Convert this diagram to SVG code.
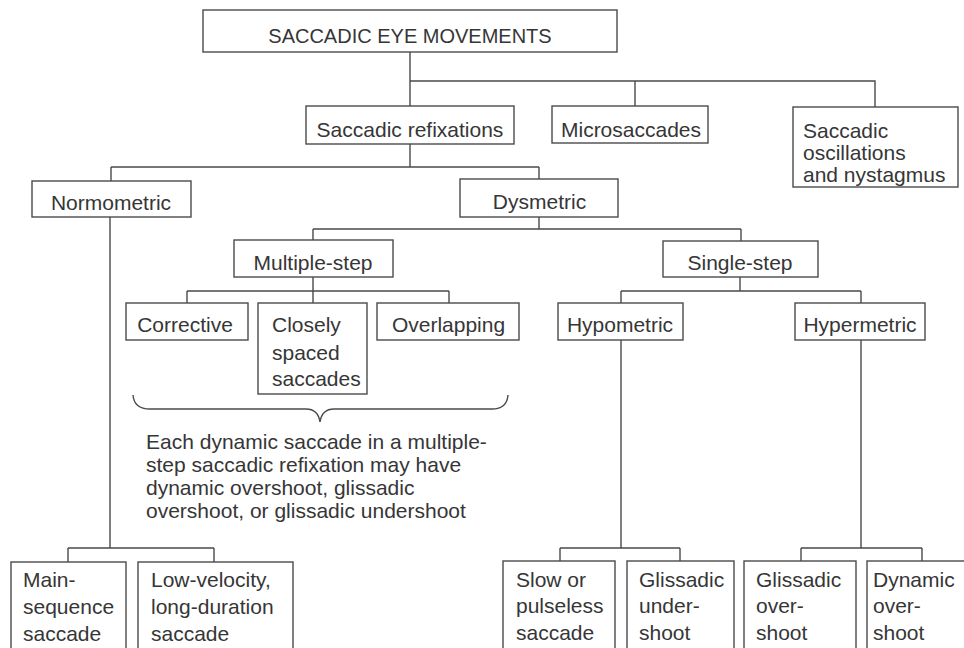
<svg xmlns="http://www.w3.org/2000/svg" width="964" height="648" viewBox="0 0 964 648">
<style>
.box{fill:#ffffff;stroke:#4a4a4a;stroke-width:1.4}
.t{font-family:"Liberation Sans",Arial,sans-serif;font-size:21px;fill:#363636}
.c{text-anchor:middle}
.ln{fill:none;stroke:#4a4a4a;stroke-width:1.4}
</style>
<rect width="964" height="648" fill="#ffffff"/>
<g id="connectors">
<path class="ln" d="M410,52 V106 M410,81 H875 V107 M635,81 V106"/>
<path class="ln" d="M410,144 V167 M111,167 H539 M111,167 V181 M539,167 V179"/>
<path class="ln" d="M539,217 V229 M313,229 H741 M313,229 V240 M741,229 V241"/>
<path class="ln" d="M313,277 V291 M187,291 H449 M187,291 V303 M313,291 V303 M449,291 V303"/>
<path class="ln" d="M740,277 V291 M621,291 H861 M621,291 V303 M861,291 V303"/>
<path class="ln" d="M621,340 V548 M560,548 H680 M560,548 V561 M680,548 V561"/>
<path class="ln" d="M861,340 V548 M801,548 H922 M801,548 V561 M922,548 V561"/>
<path class="ln" d="M110,217 V548 M68,548 H214 M68,548 V562 M214,548 V562"/>
<path class="ln" d="M133,395 Q134,409 150,409 L306,409 Q318,409 320,422 Q322,409 334,409 L492,409 Q507,409 508,395"/>
</g>
<g id="n-saccadic-eye-movements">
<rect class="box" x="203" y="10" width="414" height="42"/>
<text class="t c" x="410" y="43" style="font-size:20px">SACCADIC EYE MOVEMENTS</text>
</g>
<g id="n-saccadic-refixations">
<rect class="box" x="306" y="106" width="208" height="38"/>
<text class="t c" x="410" y="137">Saccadic refixations</text>
</g>
<g id="n-microsaccades">
<rect class="box" x="552" y="106" width="156" height="37"/>
<text class="t c" x="631" y="137">Microsaccades</text>
</g>
<g id="n-saccadic-oscillations">
<rect class="box" x="793" y="107" width="165" height="80"/>
<text class="t" x="803" y="138">Saccadic</text>
<text class="t" x="803" y="160">oscillations</text>
<text class="t" x="803" y="182">and nystagmus</text>
</g>
<g id="n-normometric">
<rect class="box" x="32" y="181" width="159" height="36"/>
<text class="t c" x="111" y="210">Normometric</text>
</g>
<g id="n-dysmetric">
<rect class="box" x="460" y="179" width="158" height="38"/>
<text class="t c" x="539.5" y="209">Dysmetric</text>
</g>
<g id="n-multiple-step">
<rect class="box" x="234" y="240" width="159" height="37"/>
<text class="t c" x="313" y="270">Multiple-step</text>
</g>
<g id="n-single-step">
<rect class="box" x="663" y="241" width="155" height="36"/>
<text class="t c" x="740" y="270">Single-step</text>
</g>
<g id="n-corrective">
<rect class="box" x="126" y="303" width="122" height="37"/>
<text class="t c" x="185" y="332">Corrective</text>
</g>
<g id="n-closely-spaced">
<rect class="box" x="258" y="303" width="109" height="91"/>
<text class="t" x="272" y="332">Closely</text>
<text class="t" x="272" y="360">spaced</text>
<text class="t" x="272" y="386">saccades</text>
</g>
<g id="n-overlapping">
<rect class="box" x="377" y="303" width="142" height="37"/>
<text class="t c" x="448.5" y="332">Overlapping</text>
</g>
<g id="n-hypometric">
<rect class="box" x="558" y="303" width="125" height="37"/>
<text class="t c" x="620" y="332">Hypometric</text>
</g>
<g id="n-hypermetric">
<rect class="box" x="795" y="303" width="130" height="37"/>
<text class="t c" x="860" y="332">Hypermetric</text>
</g>
<g id="n-note">
<text class="t" x="146" y="449">Each dynamic saccade in a multiple-</text>
<text class="t" x="146" y="472">step saccadic refixation may have</text>
<text class="t" x="146" y="495">dynamic overshoot, glissadic</text>
<text class="t" x="146" y="518">overshoot, or glissadic undershoot</text>
</g>
<g id="n-main-sequence">
<rect class="box" x="11" y="562" width="115" height="100"/>
<text class="t" x="23" y="587">Main-</text>
<text class="t" x="23" y="614">sequence</text>
<text class="t" x="23" y="641">saccade</text>
</g>
<g id="n-low-velocity">
<rect class="box" x="138" y="562" width="155" height="100"/>
<text class="t" x="151" y="587">Low-velocity,</text>
<text class="t" x="151" y="614">long-duration</text>
<text class="t" x="151" y="641">saccade</text>
</g>
<g id="n-slow-pulseless">
<rect class="box" x="503" y="561" width="112" height="100"/>
<text class="t" x="516" y="587">Slow or</text>
<text class="t" x="516" y="613">pulseless</text>
<text class="t" x="516" y="640">saccade</text>
</g>
<g id="n-glissadic-undershoot">
<rect class="box" x="627" y="561" width="107" height="100"/>
<text class="t" x="639" y="587">Glissadic</text>
<text class="t" x="639" y="613">under-</text>
<text class="t" x="639" y="640">shoot</text>
</g>
<g id="n-glissadic-overshoot">
<rect class="box" x="744" y="561" width="112" height="100"/>
<text class="t" x="756" y="587">Glissadic</text>
<text class="t" x="756" y="613">over-</text>
<text class="t" x="756" y="640">shoot</text>
</g>
<g id="n-dynamic-overshoot">
<rect class="box" x="867" y="561" width="110" height="100"/>
<text class="t" x="873" y="587">Dynamic</text>
<text class="t" x="873" y="613">over-</text>
<text class="t" x="873" y="640">shoot</text>
</g>
</svg>
